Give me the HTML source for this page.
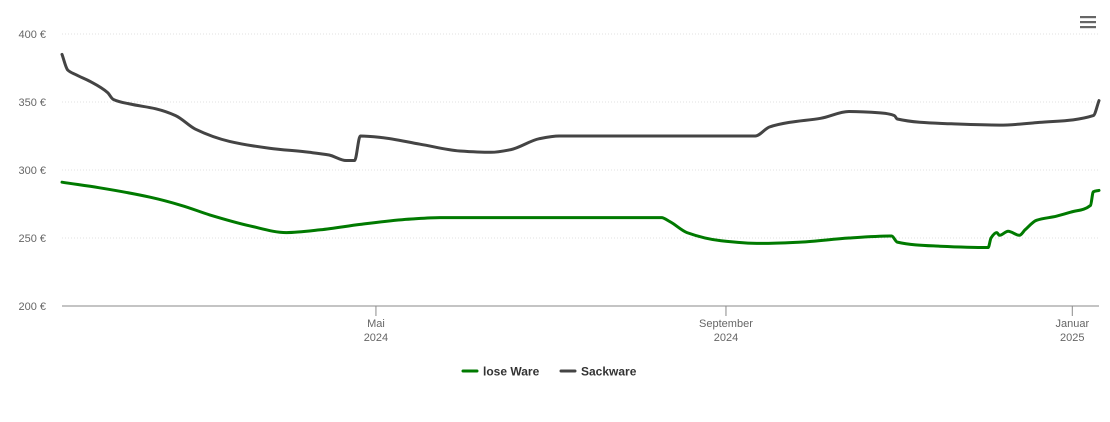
<!DOCTYPE html>
<html><head><meta charset="utf-8"><style>
body{margin:0;background:#fff;font-family:"Liberation Sans",sans-serif}
</style></head><body>
<svg width="1110" height="422" xmlns="http://www.w3.org/2000/svg" style="display:block">
<g id="grid"></g>
<g id="axes"></g>
<g id="series"></g>
<g>
<rect x="1080" y="16" width="16" height="2.2" fill="#666"/><rect x="1080" y="21" width="16" height="2.2" fill="#666"/><rect x="1080" y="26" width="16" height="2.2" fill="#666"/>
</g>
<g font-size="12" font-weight="bold" fill="#333">
<g><line x1="463" y1="371" x2="477" y2="371" stroke="#007a00" stroke-width="3" stroke-linecap="round"/><text x="483" y="375.5">lose Ware</text></g>
<g><line x1="561" y1="371" x2="575" y2="371" stroke="#444" stroke-width="3" stroke-linecap="round"/><text x="581" y="375.5">Sackware</text></g>
</g>
</svg>
<script>
// days since 2024-01-11
const sackDays=[0,2,5,10,16,18,24,33,40,47,59,73,87,94,100,103,105,112,126,140,151,158,168,175,244,249,256,267,277,288,293,294,313,330,344,363,365];
const sackVals=[385,373.5,370,365,357,352,348.5,345,340,330,321,316,313,311,307,307,325,324,319,314,313,315,323,325,325,331.6,335,338,343,342,340,337.5,334,333,335,340,351];
const loseDays=[0,13,31,42,52,66,79,91,105,123,133,211,214,220,232,246,260,277,292,294,309,326,327,329,330,333,337,339,343,350,355,362,363,365];
const loseVals=[291,287,280,274,267,259,254,256,260,264,265,265,262,254,248,246,247,250,251.5,247,244,243,250,254,252,255,252,256,263,266,269,274,284,285];
const yTicks=[200,250,300,350,400];
const xTickDays=[110.5,233.7,355.6];
const xTickLabels=[["Mai","2024"],["September","2024"],["Januar","2025"]];
const NS="http://www.w3.org/2000/svg";
const xS=d=>62+d*(1037/365);
const yS=v=>306-(v-200)*68/50;
function mk(tag,attrs,parent){const e=document.createElementNS(NS,tag);for(const k in attrs)e.setAttribute(k,attrs[k]);parent.appendChild(e);return e;}
const grid=document.getElementById('grid'),axes=document.getElementById('axes'),series=document.getElementById('series');
yTicks.forEach(v=>{
  const y=yS(v);
  const attrs={x1:62,x2:1099,y1:y,y2:y,stroke:v===200?'#8a8a8a':'#e0e0e0','stroke-width':1};
  if(v!==200)attrs['stroke-dasharray']='1,2';
  const l=mk('line',attrs,grid);
  
  
  const t=mk('text',{x:46,y:y+4,'text-anchor':'end','font-size':11,fill:'#666'},axes);
  t.textContent=v+' €';
  
  
});
xTickDays.forEach((d,i)=>{
  const x=xS(d);
  const l=mk('line',{x1:x,x2:x,y1:306,y2:316,stroke:'#8a8a8a'},axes);
  
  
  xTickLabels[i].forEach((s,j)=>{
    const t=mk('text',{x:x,y:327+j*14,'text-anchor':'middle','font-size':11,fill:'#666'},axes);
    t.textContent=s;
    
    
  });
});
function monotonePath(xs,ys){
  const n=xs.length,dx=[],m=[],t=new Array(n);
  for(let i=0;i<n-1;i++){dx[i]=xs[i+1]-xs[i];m[i]=(ys[i+1]-ys[i])/dx[i];}
  t[0]=m[0];t[n-1]=m[n-2];
  for(let i=1;i<n-1;i++){
    if(m[i-1]*m[i]<=0)t[i]=0;
    else{const w1=2*dx[i]+dx[i-1],w2=dx[i]+2*dx[i-1];t[i]=(w1+w2)/(w1/m[i-1]+w2/m[i]);}
  }
  let d='M'+xs[0].toFixed(1)+','+ys[0].toFixed(1);
  for(let i=0;i<n-1;i++){
    const h=dx[i]/3;
    d+=' C'+(xs[i]+h).toFixed(1)+','+(ys[i]+t[i]*h).toFixed(1)+' '+(xs[i+1]-h).toFixed(1)+','+(ys[i+1]-t[i+1]*h).toFixed(1)+' '+xs[i+1].toFixed(1)+','+ys[i+1].toFixed(1);
  }
  return d;
}
function line(days,vals,color,name){
  const xs=days.map(xS),ys=vals.map(yS);
  const p=mk('path',{d:monotonePath(xs,ys),fill:'none',stroke:color,'stroke-width':3,'stroke-linejoin':'round','stroke-linecap':'round'},series);
  
  
}
line(sackDays,sackVals,'#444','sackware-line');
line(loseDays,loseVals,'#007a00','lose-ware-line');
</script>
</body></html>
